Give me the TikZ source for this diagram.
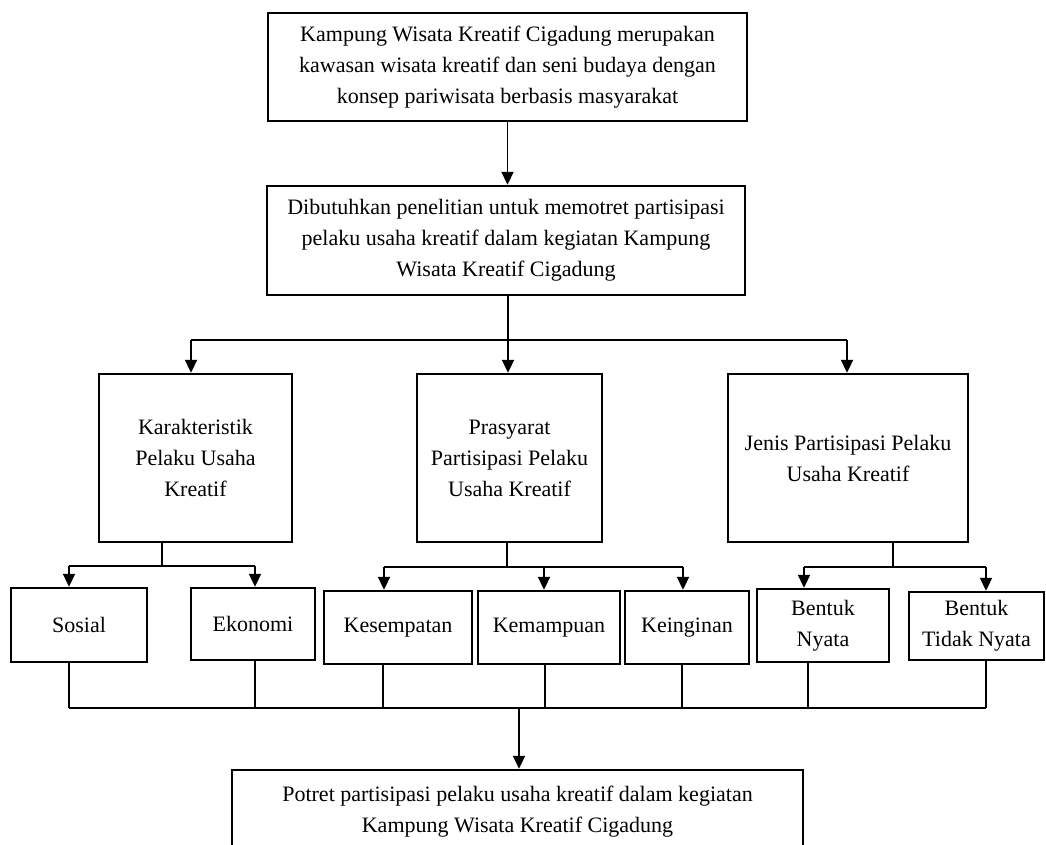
\documentclass[tikz,border=0pt]{standalone}
\usepackage{fontspec}
\setmainfont{Liberation Serif}
\usetikzlibrary{arrows.meta}
\begin{document}
\begin{tikzpicture}[x=1pt,y=-1pt,
  box/.style={draw=black, line width=2.4pt, rectangle, inner sep=0pt, align=center,
    font=\fontsize{22}{31}\selectfont, text=black},
  conn/.style={draw=black, line width=1.9pt},
  arr/.style={conn, -{Triangle[length=13pt,width=12pt]}}]
\fill[white] (0,0) rectangle (1046,844);
\useasboundingbox (0,0) rectangle (1046,844);
\clip (0,0) rectangle (1046,844);

\node[box, minimum width=479, minimum height=108] (top) at (507.5,67)
  {Kampung Wisata Kreatif Cigadung merupakan\\kawasan wisata kreatif dan seni budaya dengan\\konsep pariwisata berbasis masyarakat};
\node[box, minimum width=478, minimum height=109] (mid) at (506,240.5)
  {Dibutuhkan penelitian untuk memotret partisipasi\\pelaku usaha kreatif dalam kegiatan Kampung\\Wisata Kreatif Cigadung};
\node[box, minimum width=193, minimum height=168] (k1) at (195.5,458)
  {Karakteristik\\Pelaku Usaha\\Kreatif};
\node[box, minimum width=185, minimum height=168] (k2) at (509.5,458)
  {Prasyarat\\Partisipasi Pelaku\\Usaha Kreatif};
\node[box, minimum width=240, minimum height=168] (k3) at (848,458)
  {Jenis Partisipasi Pelaku\\Usaha Kreatif};
\node[box, minimum width=136, minimum height=74] (sos) at (79,625) {Sosial};
\node[box, minimum width=124, minimum height=72] (eko) at (253,624) {Ekonomi};
\node[box, minimum width=148, minimum height=73] (kes) at (398,627.5) {Kesempatan};
\node[box, minimum width=142, minimum height=73] (kem) at (549,627.5) {Kemampuan};
\node[box, minimum width=124, minimum height=73] (kei) at (687,627.5) {Keinginan};
\node[box, minimum width=132, minimum height=73] (bn) at (823,625.5) {Bentuk\\Nyata};
\node[box, minimum width=135, minimum height=68] (btn) at (976.5,626) {Bentuk\\Tidak Nyata};
\node[box, minimum width=571, minimum height=84] (pot) at (517.5,812)
  {Potret partisipasi pelaku usaha kreatif dalam kegiatan\\Kampung Wisata Kreatif Cigadung};

% level 0 -> 1
\draw[arr] (top.south) -- (top.south |- mid.north);

% level 1 bus
\coordinate (L1) at (191,340);
\coordinate (L1m) at (508,340);
\coordinate (L1r) at (847,340);
\draw[conn] (L1m |- mid.south) -- (L1m);
\draw[conn] (L1) -- (L1r);
\draw[arr] (L1) -- (L1 |- k1.north);
\draw[arr] (L1m) -- (L1m |- k2.north);
\draw[arr] (L1r) -- (L1r |- k3.north);

% level 2 buses
\coordinate (s1) at (162,566);
\coordinate (s1a) at (69,566);
\coordinate (s1b) at (255,566);
\draw[conn] (s1 |- k1.south) -- (s1);
\draw[conn] (s1a) -- (s1b);
\draw[arr] (s1a) -- (s1a |- sos.north);
\draw[arr] (s1b) -- (s1b |- eko.north);

\coordinate (s2) at (507,567);
\coordinate (s2a) at (384,567);
\coordinate (s2b) at (544,567);
\coordinate (s2c) at (683,567);
\draw[conn] (s2 |- k2.south) -- (s2);
\draw[conn] (s2a) -- (s2c);
\draw[arr] (s2a) -- (s2a |- kes.north);
\draw[arr] (s2b) -- (s2b |- kem.north);
\draw[arr] (s2c) -- (s2c |- kei.north);

\coordinate (s3) at (893,567);
\coordinate (s3a) at (804,567);
\coordinate (s3b) at (986,567);
\draw[conn] (s3 |- k3.south) -- (s3);
\draw[conn] (s3a) -- (s3b);
\draw[arr] (s3a) -- (s3a |- bn.north);
\draw[arr] (s3b) -- (s3b |- btn.north);

% bottom bus
\coordinate (u1) at (69,708);
\coordinate (u2) at (255,708);
\coordinate (u3) at (383,708);
\coordinate (u4) at (545,708);
\coordinate (u5) at (682,708);
\coordinate (u6) at (808,708);
\coordinate (u7) at (986,708);
\coordinate (um) at (519,708);
\draw[conn] (u1 |- sos.south) -- (u1);
\draw[conn] (u2 |- eko.south) -- (u2);
\draw[conn] (u3 |- kes.south) -- (u3);
\draw[conn] (u4 |- kem.south) -- (u4);
\draw[conn] (u5 |- kei.south) -- (u5);
\draw[conn] (u6 |- bn.south) -- (u6);
\draw[conn] (u7 |- btn.south) -- (u7);
\draw[conn] (u1) -- (u7);
\draw[arr] (um) -- (um |- pot.north);
\end{tikzpicture}
\end{document}
